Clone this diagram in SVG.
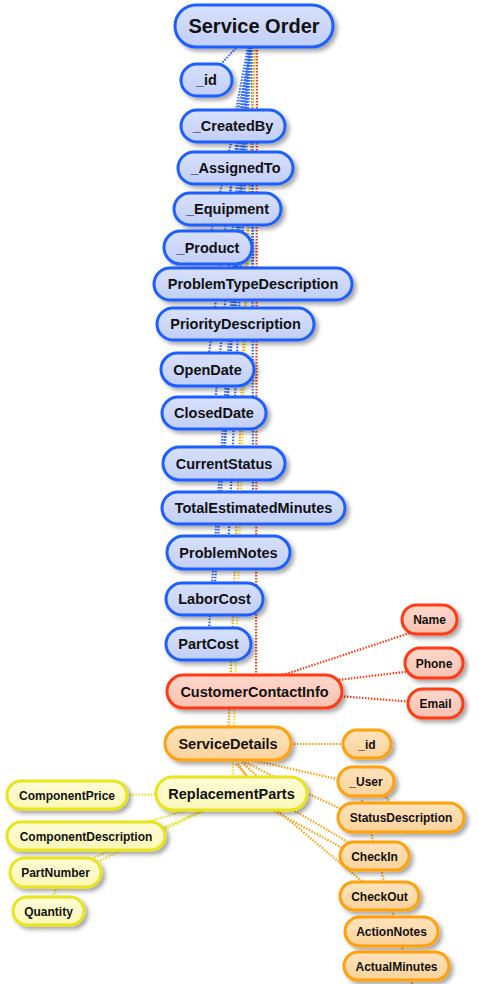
<svg xmlns="http://www.w3.org/2000/svg" width="479" height="984" viewBox="0 0 479 984">
<defs>
<filter id="sh" x="-20%" y="-30%" width="140%" height="170%">
<feDropShadow dx="3" dy="3" stdDeviation="2.2" flood-color="#000" flood-opacity="0.35"/>
</filter>
<linearGradient id="gb" x1="0" y1="0" x2="0" y2="1"><stop offset="0" stop-color="#d8e1fb"/><stop offset="1" stop-color="#c1cef7"/></linearGradient>
<linearGradient id="gr" x1="0" y1="0" x2="0" y2="1"><stop offset="0" stop-color="#fdd8cc"/><stop offset="1" stop-color="#fbc1b0"/></linearGradient>
<linearGradient id="go" x1="0" y1="0" x2="0" y2="1"><stop offset="0" stop-color="#fee3bd"/><stop offset="1" stop-color="#fcd29a"/></linearGradient>
<linearGradient id="gy" x1="0" y1="0" x2="0" y2="1"><stop offset="0" stop-color="#fdfcd6"/><stop offset="1" stop-color="#fbf8b6"/></linearGradient>
</defs>
<style>
.n rect{stroke-width:3;filter:url(#sh)}
.b rect{fill:url(#gb);stroke:#1f5eff}
.r rect{fill:url(#gr);stroke:#ff3a12}
.o rect{fill:url(#go);stroke:#ffa00a}
.y rect{fill:url(#gy);stroke:#e9e41c}
text{font-family:"Liberation Sans",Arial,Helvetica,sans-serif;font-weight:bold;text-anchor:middle;fill:#111}
.m text{font-size:14.5px}
.l text{font-size:12px}
#c path{fill:none;stroke-width:2.2;stroke-dasharray:1.5 1.5}
#c .eb{stroke:#2b66ff}
#c .er{stroke:#ff3a12}
#c .eo{stroke:#ffa00a}
#c .ey{stroke:#e9e41c}
</style>
<g id="c">
<path class="eb" d="M238,46 L206,80"/>
<path class="eb" d="M248,47 L233,126"/>
<path class="eb" d="M250,47 L236,168"/>
<path class="eb" d="M251,47 L228,209"/>
<path class="eb" d="M252,47 L208,247"/>
<path class="eb" d="M252,47 L253,285"/>
<path class="eb" d="M250,47 L235,324"/>
<path class="eb" d="M249,47 L207,369"/>
<path class="eb" d="M251,47 L214,413"/>
<path class="eb" d="M250,47 L224,463"/>
<path class="eb" d="M252,47 L253,508"/>
<path class="eb" d="M251,47 L228,552"/>
<path class="eb" d="M250,47 L214,599"/>
<path class="eb" d="M249,47 L208,644"/>
<path class="ey" d="M254,47 L232,794"/>
<path class="eo" d="M255,47 L228,744"/>
<path class="er" d="M257,47 L256,690"/>
<path class="er" d="M280,676 L425,628"/>
<path class="er" d="M330,681 L412,671"/>
<path class="er" d="M338,696 L414,702"/>
<path class="eo" d="M288,744 L350,744"/>
<path class="eo" d="M243,758 L350,782"/>
<path class="eo" d="M245,762 L300,790 L350,813"/>
<path class="eo" d="M242,762 L290,808 L358,848"/>
<path class="eo" d="M238,764 L272,810 L350,852"/>
<path class="eo" d="M236,764 L277,810 L370,888"/>
<path class="eo" d="M380,790 L398,812"/>
<path class="eo" d="M362,800 L412,984"/>
<path class="ey" d="M230,794 L100,795"/>
<path class="ey" d="M225,800 L100,835"/>
<path class="ey" d="M228,800 L70,868"/>
<path class="ey" d="M215,805 L60,880 L48,908"/>
</g>
<g id="service-order" class="n b"><rect x="175" y="5" width="158" height="42" rx="21"/><text x="254" y="33" font-size="20">Service Order</text></g>
<g id="so-id" class="n b m"><rect x="181" y="64" width="51" height="32" rx="16"/><text x="206.5" y="85">_id</text></g>
<g id="createdby" class="n b m"><rect x="181" y="110" width="104" height="32" rx="16"/><text x="233" y="131">_CreatedBy</text></g>
<g id="assignedto" class="n b m"><rect x="178" y="152" width="115" height="32" rx="16"/><text x="235.5" y="173">_AssignedTo</text></g>
<g id="equipment" class="n b m"><rect x="174" y="193" width="107" height="32" rx="16"/><text x="227.5" y="214">_Equipment</text></g>
<g id="product" class="n b m"><rect x="164" y="231" width="88" height="33" rx="16.5"/><text x="208" y="252.5">_Product</text></g>
<g id="problemtypedescription" class="n b m"><rect x="154" y="268" width="198" height="32" rx="16"/><text x="253" y="289">ProblemTypeDescription</text></g>
<g id="prioritydescription" class="n b m"><rect x="157" y="308" width="157" height="32" rx="16"/><text x="235.5" y="329">PriorityDescription</text></g>
<g id="opendate" class="n b m"><rect x="161" y="353" width="93" height="33" rx="16.5"/><text x="207.5" y="374.5">OpenDate</text></g>
<g id="closeddate" class="n b m"><rect x="162" y="397" width="104" height="32" rx="16"/><text x="214" y="418">ClosedDate</text></g>
<g id="currentstatus" class="n b m"><rect x="163" y="447" width="122" height="33" rx="16.5"/><text x="224" y="468.5">CurrentStatus</text></g>
<g id="totalestimatedminutes" class="n b m"><rect x="162" y="492" width="183" height="32" rx="16"/><text x="253.5" y="513">TotalEstimatedMinutes</text></g>
<g id="problemnotes" class="n b m"><rect x="167" y="536" width="123" height="33" rx="16.5"/><text x="228.5" y="557.5">ProblemNotes</text></g>
<g id="laborcost" class="n b m"><rect x="166" y="583" width="97" height="32" rx="16"/><text x="214.5" y="604">LaborCost</text></g>
<g id="partcost" class="n b m"><rect x="166" y="628" width="85" height="32" rx="16"/><text x="208.5" y="649">PartCost</text></g>
<g id="customercontactinfo" class="n r m"><rect x="167" y="675" width="175" height="33" rx="16.5"/><text x="254.5" y="696.5">CustomerContactInfo</text></g>
<g id="name" class="n r l"><rect x="402" y="605" width="55" height="29" rx="14.5"/><text x="429.5" y="624">Name</text></g>
<g id="phone" class="n r l"><rect x="405" y="648" width="58" height="30" rx="15"/><text x="434" y="667.5">Phone</text></g>
<g id="email" class="n r l"><rect x="408" y="689" width="55" height="29" rx="14.5"/><text x="435.5" y="708">Email</text></g>
<g id="servicedetails" class="n o m"><rect x="165" y="727" width="126" height="33" rx="16.5"/><text x="228" y="748.5">ServiceDetails</text></g>
<g id="sd-id" class="n o l"><rect x="343" y="730" width="48" height="28" rx="14"/><text x="367" y="748.5">_id</text></g>
<g id="user" class="n o l"><rect x="338" y="767" width="56" height="29" rx="14.5"/><text x="366" y="786">_User</text></g>
<g id="statusdescription" class="n o l"><rect x="338" y="803" width="126" height="29" rx="14.5"/><text x="401" y="822">StatusDescription</text></g>
<g id="checkin" class="n o l"><rect x="340" y="842" width="69" height="28" rx="14"/><text x="374.5" y="860.5">CheckIn</text></g>
<g id="checkout" class="n o l"><rect x="340" y="882" width="79" height="28" rx="14"/><text x="379.5" y="900.5">CheckOut</text></g>
<g id="actionnotes" class="n o l"><rect x="345" y="917" width="93" height="29" rx="14.5"/><text x="391.5" y="936">ActionNotes</text></g>
<g id="actualminutes" class="n o l"><rect x="344" y="952" width="105" height="28" rx="14"/><text x="396.5" y="970.5">ActualMinutes</text></g>
<g id="replacementparts" class="n y m"><rect x="156" y="777" width="151" height="33" rx="16.5"/><text x="231.5" y="798.5">ReplacementParts</text></g>
<g id="componentprice" class="n y l"><rect x="7" y="781" width="120" height="28" rx="14"/><text x="67" y="799.5">ComponentPrice</text></g>
<g id="componentdescription" class="n y l"><rect x="7" y="822" width="158" height="28" rx="14"/><text x="86" y="840.5">ComponentDescription</text></g>
<g id="partnumber" class="n y l"><rect x="10" y="858" width="91" height="29" rx="14.5"/><text x="55.5" y="877">PartNumber</text></g>
<g id="quantity" class="n y l"><rect x="13" y="897" width="71" height="28" rx="14"/><text x="48.5" y="915.5">Quantity</text></g>
</svg>
